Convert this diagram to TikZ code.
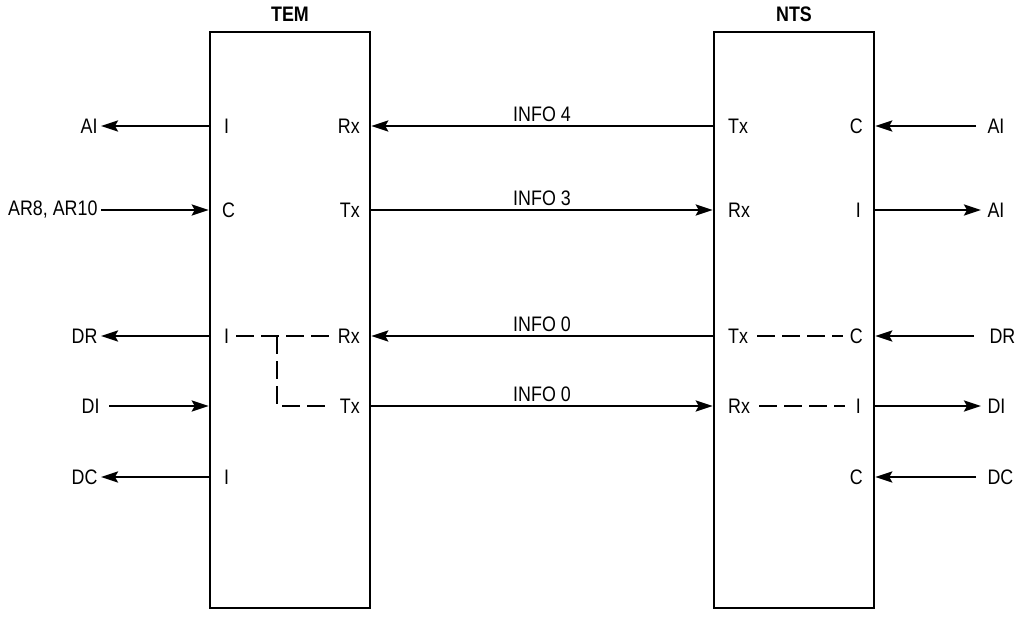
\documentclass[tikz,border=0pt]{standalone}
\usepackage{fontspec}
\setmainfont{Liberation Sans}[FakeStretch=0.85]
\usetikzlibrary{arrows.meta}
\begin{document}
\begin{tikzpicture}[x=1pt, y=-1pt, font=\fontsize{21}{24}\selectfont,
    box/.style={draw, line width=2.5pt, minimum width=160pt, minimum height=576pt},
    pin/.style={inner sep=3pt},
    sig/.style={line width=2.5pt, -{Stealth[length=17pt, width=11pt, inset=3pt]}},
    link/.style={line width=2.5pt, dash pattern=on 18pt off 7pt}]
    \useasboundingbox (0,0) rectangle (1022,616);
    % the two boxes
    \node [box] (tem) at (290,320) {};
    \node [box] (nts) at (794,320) {};
    \node [font=\fontsize{21}{24}\selectfont\bfseries] (temname) at (290,14) {TEM};
    \node [font=\fontsize{21}{24}\selectfont\bfseries] (ntsname) at (794,14) {NTS};
    % TEM pins
    \node [pin, anchor=west] (temI1) at (221,126) {I};
    \node [pin, anchor=west] (temC) at (219,210) {C};
    \node [pin, anchor=west] (temI2) at (221,336) {I};
    \node [pin, anchor=west] (temI3) at (221,477) {I};
    \node [pin, anchor=east] (temRx1) at (363,126) {Rx};
    \node [pin, anchor=east] (temTx1) at (363,210) {Tx};
    \node [pin, anchor=east] (temRx2) at (363,336) {Rx};
    \node [pin, anchor=east] (temTx2) at (363,406) {Tx};
    % NTS pins
    \node [pin, anchor=west] (ntsTx1) at (725,126) {Tx};
    \node [pin, anchor=west] (ntsRx1) at (725,210) {Rx};
    \node [pin, anchor=west] (ntsTx2) at (725,336) {Tx};
    \node [pin, anchor=west] (ntsRx2) at (725,406) {Rx};
    \node [pin, anchor=east] (ntsC1) at (866,126) {C};
    \node [pin, anchor=east] (ntsI1) at (864,210) {I};
    \node [pin, anchor=east] (ntsC2) at (866,336) {C};
    \node [pin, anchor=east] (ntsI2) at (864,406) {I};
    \node [pin, anchor=east] (ntsC3) at (866,477) {C};
    % outside signals
    \node [anchor=east] (lAI) at (101,126) {AI};
    \node [anchor=east] (lAR) at (101,210) {AR8, AR10};
    \node [anchor=east] (lDR) at (101,336) {DR};
    \node [anchor=east] (lDI) at (103,406) {DI};
    \node [anchor=east] (lDC) at (101,477) {DC};
    \node [anchor=west] (rAI1) at (984,126) {AI};
    \node [anchor=west] (rAI2) at (984,210) {AI};
    \node [anchor=west] (rDR) at (986,336) {DR};
    \node [anchor=west] (rDI) at (984,406) {DI};
    \node [anchor=west] (rDC) at (984,477) {DC};
    % left side
    \draw [sig] (tem.west |- lAI) -- (lAI);
    \draw [sig] (lAR) -- (tem.west |- lAR);
    \draw [sig] (tem.west |- lDR) -- (lDR);
    \draw [sig, shorten <=6pt] (lDI) -- (tem.west |- lDI);
    \draw [sig] (tem.west |- lDC) -- (lDC);
    % between the boxes
    \draw [sig] (nts.west |- ntsTx1) -- node [above] {INFO 4} (tem.east |- temRx1);
    \draw [sig] (tem.east |- temTx1) -- node [above] {INFO 3} (nts.west |- ntsRx1);
    \draw [sig] (nts.west |- ntsTx2) -- node [above] {INFO 0} (tem.east |- temRx2);
    \draw [sig] (tem.east |- temTx2) -- node [above] {INFO 0} (nts.west |- ntsRx2);
    % right side
    \draw [sig, shorten <=8pt] (rAI1) -- (nts.east |- rAI1);
    \draw [sig, shorten >=3pt] (nts.east |- rAI2) -- (rAI2);
    \draw [sig, shorten <=12pt] (rDR) -- (nts.east |- rDR);
    \draw [sig, shorten >=3pt] (nts.east |- rDI) -- (rDI);
    \draw [sig, shorten <=8pt] (rDC) -- (nts.east |- rDC);
    % inner links
    \draw [link, shorten <=4pt, shorten >=6pt] (temI2) -- (temRx2);
    \draw [link, shorten >=6pt] (277,336) |- (temTx2);
    \draw [link, shorten <=6pt, shorten >=4pt] (ntsTx2) -- (ntsC2);
    \draw [link, shorten <=6pt, shorten >=8pt] (ntsRx2) -- (ntsI2);
\end{tikzpicture}
\end{document}
